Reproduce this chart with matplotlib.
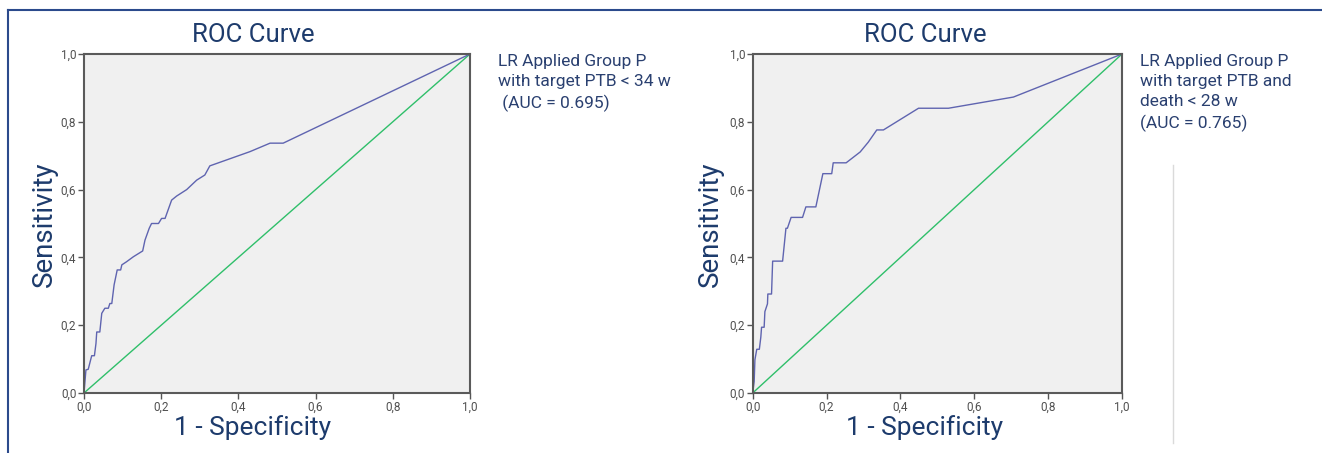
import matplotlib
matplotlib.use('Agg')
import matplotlib.pyplot as plt
from matplotlib.ticker import FuncFormatter
from matplotlib.lines import Line2D

# ROC curve 1: target PTB < 34 w
fpr_34 = [0.0, 0.005, 0.011, 0.017, 0.020, 0.027, 0.031, 0.033, 0.041, 0.046, 0.054,
          0.063, 0.067, 0.072, 0.078, 0.086, 0.095, 0.098, 0.110, 0.128, 0.152, 0.158,
          0.169, 0.175, 0.193, 0.201, 0.210, 0.227, 0.240, 0.266, 0.292, 0.313, 0.326,
          0.430, 0.482, 0.516, 1.0]
tpr_34 = [0.0, 0.068, 0.070, 0.097, 0.110, 0.110, 0.146, 0.180, 0.180, 0.235, 0.250,
          0.250, 0.264, 0.264, 0.319, 0.363, 0.363, 0.378, 0.387, 0.402, 0.419, 0.451,
          0.486, 0.500, 0.500, 0.515, 0.515, 0.569, 0.581, 0.600, 0.628, 0.643, 0.670,
          0.712, 0.737, 0.737, 1.0]

# ROC curve 2: target PTB and death < 28 w
fpr_28 = [0.0, 0.004, 0.006, 0.011, 0.018, 0.022, 0.024, 0.031, 0.033, 0.040, 0.041,
          0.051, 0.054, 0.081, 0.090, 0.094, 0.104, 0.135, 0.144, 0.171, 0.190, 0.214,
          0.218, 0.253, 0.291, 0.313, 0.336, 0.354, 0.449, 0.530, 0.706, 1.0]
tpr_28 = [0.0, 0.034, 0.098, 0.129, 0.129, 0.165, 0.194, 0.194, 0.240, 0.263, 0.292,
          0.292, 0.389, 0.389, 0.486, 0.486, 0.518, 0.518, 0.549, 0.549, 0.647, 0.647,
          0.679, 0.679, 0.711, 0.740, 0.776, 0.776, 0.840, 0.840, 0.873, 1.0]

ticks = [0.0, 0.2, 0.4, 0.6, 0.8, 1.0]
labels = ['LR Applied Group P\nwith target PTB < 34 w\n (AUC = 0.695)',
          'LR Applied Group P\nwith target PTB and\ndeath < 28 w\n(AUC = 0.765)']

navy = '#1d3b6c'
curve_col = '#5f64b0'
ref_col = '#2fbf6a'
W, H = 1322, 453

plt.rcParams['font.family'] = ['Roboto', 'DejaVu Sans']
fig = plt.figure(figsize=(W / 100, H / 100), dpi=100)

# outer frame (top and left edges)
fig.add_artist(Line2D([8 / W, 1], [1 - 10 / H, 1 - 10 / H], color='#2b4a8c', lw=1.5))
fig.add_artist(Line2D([8 / W, 8 / W], [0, 1 - 10 / H], color='#2b4a8c', lw=1.5))
fig.add_artist(Line2D([1173 / W, 1173 / W], [1 - 443 / H, 1 - 165 / H], color='#dadada', lw=1))

comma = FuncFormatter(lambda v, p: f'{v:.1f}'.replace('.', ','))

panels = [
    # axes x range in px, curve, label x, title x, y-label x
    ((84, 470), fpr_34, tpr_34, labels[0], 498, 253, 44),
    ((752.7, 1122), fpr_28, tpr_28, labels[1], 1140, 925, 710),
]
y_top, y_bot = 54, 393

for (x0, x1), fx, ty, lab, lab_x, title_x, ylab_x in panels:
    ax = fig.add_axes([x0 / W, 1 - y_bot / H, (x1 - x0) / W, (y_bot - y_top) / H])
    ax.set_facecolor('#f0f0f0')
    ax.plot([0, 1], [0, 1], color=ref_col, lw=1)
    ax.plot(fx, ty, color=curve_col, lw=1)
    ax.set_xlim(0, 1)
    ax.set_ylim(0, 1)
    ax.set_xticks(ticks)
    ax.set_yticks(ticks)
    ax.xaxis.set_major_formatter(comma)
    ax.yaxis.set_major_formatter(comma)
    ax.tick_params(length=4, width=1, color='#555555', labelsize=8.5,
                   labelcolor='#505050', pad=1.5)
    for s in ax.spines.values():
        s.set_color('#5a5a5a')
        s.set_linewidth(1.5)
    fig.text(title_x / W, 1 - 35 / H, 'ROC Curve', ha='center', va='center',
             fontsize=18.5, color=navy)
    fig.text(title_x / W, 1 - 428 / H, '1 - Specificity', ha='center', va='center',
             fontsize=19, color=navy)
    fig.text(ylab_x / W, 1 - 224 / H, 'Sensitivity', ha='center', va='center',
             rotation=90, fontsize=20, color=navy)
    fig.text(lab_x / W, 1 - 54 / H, lab, ha='left', va='top', fontsize=12.5,
             color='#2a4070', linespacing=1.42)

fig.savefig('out.png', dpi=100)
